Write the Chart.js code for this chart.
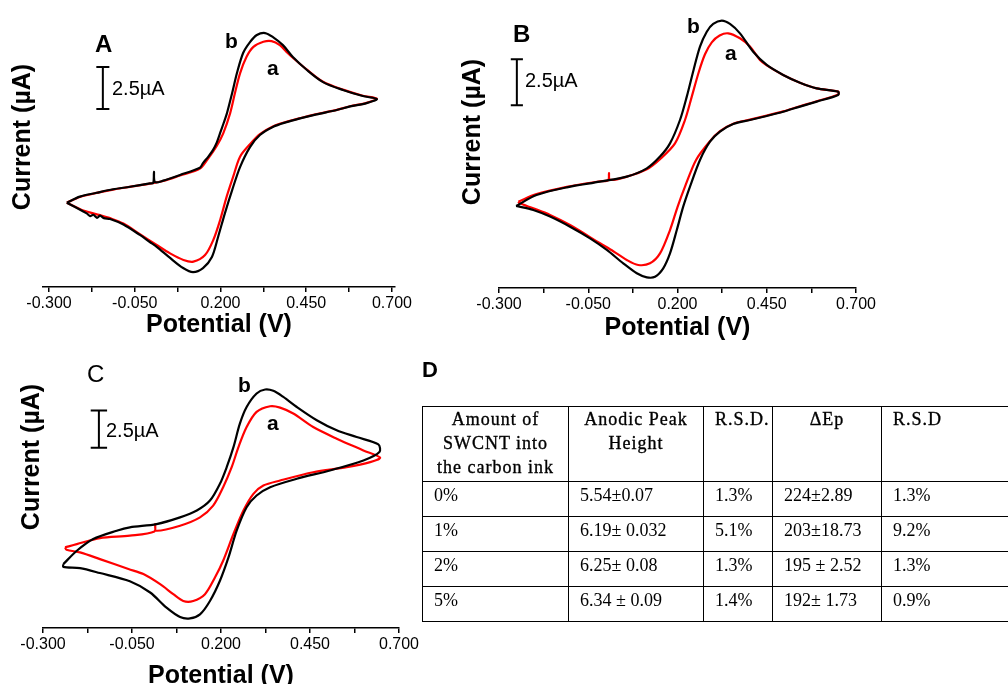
<!DOCTYPE html>
<html>
<head>
<meta charset="utf-8">
<script src="https://cdn.jsdelivr.net/npm/chart.js"></script>
<style>
  body { margin: 0; width: 1008px; height: 684px; overflow: hidden; background: #fff; position: relative; }
  canvas { position: absolute; }
  #lblD { position: absolute; left: 422px; top: 359px; font: bold 22px "Liberation Sans", Arial, sans-serif; line-height: 1; }
  #tbl { position: absolute; left: 422px; top: 406px; width: 659px; border-collapse: collapse; table-layout: fixed;
         font-family: "Liberation Serif", "Times New Roman", serif; font-size: 18px; color: #000; }
  #tbl td { border: 1px solid #000; vertical-align: top; padding: 3px 0 0 11px; line-height: 20px; white-space: nowrap; overflow: hidden; }
  #tbl tr.head td { padding: 0; line-height: 24px; letter-spacing: 1px; text-align: center; -webkit-text-stroke: 0.35px #000; }
  #tbl tr.head td.l { text-align: left; padding-left: 11px; }
</style>
</head>
<body>
<canvas id="cvA" width="425" height="345" style="left:0;top:0"></canvas>
<canvas id="cvB" width="432" height="345" style="left:450px;top:0"></canvas>
<canvas id="cvC" width="425" height="355" style="left:0;top:345px"></canvas>
<div id="lblD">D</div>
<table id="tbl"></table>
<script>
// x ticks (V), labels on every other one
const xTicks = [-0.3, -0.175, -0.05, 0.075, 0.2, 0.325, 0.45, 0.575, 0.7];

// Panel A  (potential V / current uA, loop: forward then reverse)
const potA_b = [-0.248,-0.210,-0.161,-0.113,-0.064,-0.006,0.004,0.006,0.009,0.033,0.082,0.140,0.149,0.164,0.178,0.189,0.199,0.209,0.219,0.234,0.248,0.266,0.286,0.306,0.330,0.353,0.382,0.411,0.452,0.499,0.557,0.615,0.656,
  0.626,0.578,0.539,0.480,0.432,0.390,0.354,0.315,0.286,0.257,0.234,0.213,0.193,0.175,0.149,0.120,0.091,0.053,0.015,-0.006,-0.035,-0.083,-0.122,-0.140,-0.151,-0.160,-0.171,-0.180,-0.190,-0.200,-0.248];
const curA_b = [5.02,5.38,5.61,5.82,5.97,6.17,6.20,6.86,6.25,6.33,6.67,7.10,7.38,7.75,8.15,8.60,9.17,9.75,10.36,11.55,12.74,13.93,14.58,15.00,15.12,14.88,14.40,13.69,12.92,12.20,11.73,11.37,11.19,
  10.95,10.75,10.54,10.28,10.04,9.80,9.54,9.05,8.33,7.14,5.77,4.40,2.98,1.79,1.13,0.89,1.13,1.73,2.38,2.68,3.10,3.72,4.05,4.10,4.25,4.12,4.30,4.22,4.38,4.50,5.02];
const potA_a = [-0.248,-0.210,-0.161,-0.113,-0.064,-0.006,0.033,0.082,0.140,0.164,0.189,0.208,0.228,0.242,0.257,0.276,0.296,0.325,0.349,0.373,0.395,0.411,0.452,0.499,0.557,0.615,0.656,
  0.626,0.578,0.539,0.480,0.432,0.390,0.354,0.315,0.286,0.257,0.237,0.218,0.199,0.179,0.155,0.121,0.092,0.053,0.014,-0.035,-0.083,-0.122,-0.151,-0.200,-0.248];
const curA_a = [5.02,5.36,5.60,5.80,5.96,6.15,6.31,6.64,7.05,7.65,8.40,9.15,10.34,11.53,12.72,13.71,14.30,14.60,14.64,14.40,13.95,13.65,12.94,12.22,11.75,11.39,11.21,
  10.96,10.76,10.55,10.29,10.05,9.82,9.57,9.10,8.50,7.76,6.57,5.38,3.99,2.80,1.90,1.51,1.61,2.00,2.50,3.15,3.78,4.10,4.28,4.55,5.02];

// Panel B
const potB_b = [-0.252,-0.195,-0.110,-0.017,0.058,0.114,0.151,0.179,0.207,0.226,0.245,0.263,0.282,0.300,0.324,0.347,0.375,0.412,0.450,0.496,0.543,0.590,0.650,
  0.650,0.590,0.543,0.496,0.450,0.403,0.356,0.319,0.291,0.263,0.235,0.216,0.198,0.179,0.160,0.137,0.114,0.086,0.048,0.002,-0.045,-0.101,-0.157,-0.204,-0.252];
const curB_b = [4.46,5.05,5.47,5.78,6.05,6.50,7.14,7.86,9.13,10.40,11.85,13.12,13.93,14.35,14.53,14.35,13.84,12.84,12.12,11.58,11.16,10.85,10.67,
  10.49,10.13,9.86,9.58,9.35,9.13,8.91,8.50,7.95,6.96,5.51,4.42,3.15,1.88,1.07,0.61,0.58,0.80,1.34,2.07,2.70,3.33,3.88,4.24,4.46];
const potB_a = [-0.246,-0.195,-0.110,-0.017,0.006,0.008,0.011,0.058,0.114,0.151,0.193,0.221,0.240,0.259,0.277,0.296,0.318,0.342,0.375,0.403,0.431,0.450,0.496,0.543,0.590,0.650,
  0.650,0.590,0.543,0.496,0.450,0.403,0.356,0.319,0.291,0.252,0.221,0.200,0.179,0.151,0.123,0.090,0.058,0.020,-0.017,-0.101,-0.157,-0.204,-0.242,-0.246];
const curB_a = [4.69,5.10,5.50,5.80,5.86,6.25,5.88,6.05,6.45,7.00,7.86,9.13,10.40,11.70,12.70,13.35,13.72,13.84,13.57,13.12,12.39,12.10,11.58,11.16,10.85,10.67,
  10.52,10.15,9.88,9.60,9.37,9.15,8.93,8.52,7.98,6.96,5.51,4.40,3.15,1.88,1.34,1.25,1.52,2.00,2.43,3.42,3.97,4.33,4.60,4.69];

// Panel C
const potC_b = [-0.243,-0.205,-0.159,-0.093,-0.056,0.019,0.085,0.132,0.169,0.197,0.216,0.235,0.253,0.272,0.300,0.324,0.347,0.375,0.413,0.469,0.525,0.581,0.642,0.645,
  0.600,0.506,0.413,0.338,0.300,0.272,0.244,0.221,0.197,0.169,0.141,0.113,0.085,0.047,0.001,-0.056,-0.140,-0.196,-0.243,-0.243];
const curC_b = [4.30,5.20,5.99,6.55,6.78,7.00,7.45,7.91,8.58,9.71,10.83,12.18,13.76,14.88,15.79,16.06,15.97,15.56,14.88,13.99,13.31,12.86,12.36,11.85,
  11.28,10.61,10.05,9.48,8.92,8.13,6.55,4.75,3.18,1.82,0.92,0.65,0.74,1.37,2.39,3.15,3.70,4.03,4.12,4.30];
const potC_a = [-0.238,-0.205,-0.140,-0.056,0.013,0.015,0.018,0.085,0.141,0.178,0.206,0.230,0.249,0.272,0.300,0.338,0.366,0.403,0.459,0.525,0.600,0.647,
  0.619,0.553,0.459,0.366,0.319,0.291,0.263,0.235,0.206,0.183,0.155,0.122,0.094,0.066,0.029,-0.018,-0.060,-0.140,-0.196,-0.234,-0.238];
const curC_a = [5.43,5.65,6.05,6.22,6.50,7.00,6.55,6.89,7.45,8.24,9.48,10.83,12.18,13.53,14.55,14.93,14.84,14.44,13.53,12.75,11.96,11.47,
  11.17,10.83,10.49,9.93,9.59,9.03,7.91,6.33,4.53,3.40,2.28,1.82,1.82,2.28,2.95,3.63,3.97,4.64,5.09,5.27,5.43];

// scale bar length (uA)
const barLen = 2.5;

// Table D
const tblHead = [["Amount of", "SWCNT into", "the carbon ink"], ["Anodic Peak", "Height"], ["R.S.D."], ["\u0394Ep"], ["R.S.D"]];
const tblAmount = ["0%", "1%", "2%", "5%"];
const tblPeak = ["5.54\u00b10.07", "6.19\u00b1 0.032", "6.25\u00b1 0.08", "6.34 \u00b1 0.09"];
const tblRsd1 = ["1.3%", "5.1%", "1.3%", "1.4%"];
const tblDEp = ["224\u00b12.89", "203\u00b118.73", "195 \u00b1 2.52", "192\u00b1 1.73"];
const tblRsd2 = ["1.3%", "9.2%", "1.3%", "0.9%"];

function pts(xs, ys) {
  return xs.map((x, i) => ({ x: x, y: ys[i] }));
}

// I-shaped scale bar, drawn in data units
function scaleBar(x, y0, cap) {
  const y1 = y0 + barLen;
  return [{x: x - cap, y: y1}, {x: x + cap, y: y1}, {x: x, y: y1}, {x: x, y: y0},
          {x: x - cap, y: y0}, {x: x + cap, y: y0}];
}

const notesPlugin = {
  id: 'notes',
  afterDraw(chart, args, opts) {
    const ctx = chart.ctx;
    (opts.items || []).forEach(t => {
      ctx.save();
      ctx.fillStyle = '#000';
      ctx.font = t.font + ' "Liberation Sans", Arial, sans-serif';
      if (t.rot) {
        ctx.translate(t.x, t.y);
        ctx.rotate(-Math.PI / 2);
        ctx.textAlign = 'center';
        ctx.textBaseline = 'middle';
        ctx.fillText(t.text, 0, 0);
      } else {
        ctx.textAlign = 'left';
        ctx.textBaseline = 'alphabetic';
        ctx.fillText(t.text, t.x, t.y);
      }
      ctx.restore();
    });
  }
};

function makeCV(id, c) {
  new Chart(document.getElementById(id), {
    type: 'line',
    data: {
      datasets: [
        { data: pts(c.bx, c.by), borderColor: '#000', borderWidth: 2.2, pointRadius: 0, tension: 0.3, fill: false },
        { data: pts(c.ax, c.ay), borderColor: '#ff0000', borderWidth: 2.2, pointRadius: 0, tension: 0.3, fill: false },
        { data: scaleBar(c.barX, c.barY, c.barCap), borderColor: '#000', borderWidth: 2, pointRadius: 0, tension: 0, fill: false }
      ]
    },
    options: {
      responsive: false,
      animation: false,
      events: [],
      layout: { padding: { left: c.padL, right: c.padR, top: 5, bottom: 0 } },
      plugins: {
        legend: { display: false },
        tooltip: { enabled: false },
        notes: { items: c.notes }
      },
      scales: {
        x: {
          type: 'linear',
          min: c.xMin,
          max: c.xMax,
          afterBuildTicks: s => { s.ticks = xTicks.map(v => ({ value: v })); },
          afterFit: s => { s.height = c.axisH; },
          ticks: {
            autoSkip: false, maxRotation: 0, minRotation: 0, padding: 2, color: '#000',
            font: { family: '"Liberation Sans", Arial, sans-serif', size: 16 },
            callback: (v, i) => (i % 2 === 0 ? Number(v).toFixed(3) : '')
          },
          grid: { drawOnChartArea: false, drawTicks: true, tickLength: 5, color: '#000', tickColor: '#000', lineWidth: 1.5 },
          border: { display: true, color: '#000', width: 1.5 },
          title: {
            display: true, text: 'Potential (V)', color: '#000',
            font: { family: '"Liberation Sans", Arial, sans-serif', size: 25, weight: 'bold' },
            padding: { top: 0, bottom: c.titlePad }
          }
        },
        y: { type: 'linear', display: false, min: 0, max: c.yMax }
      }
    },
    plugins: [notesPlugin]
  });
}

makeCV('cvA', {
  bx: potA_b, by: curA_b, ax: potA_a, ay: curA_a,
  xMin: -0.3175, xMax: 0.7088, yMax: 16.79, padL: 43, padR: 30, axisH: 58, titlePad: 5,
  barX: -0.143, barY: 10.60, barCap: 0.019,
  notes: [
    { text: 'A', x: 95, y: 52, font: 'bold 24px' },
    { text: 'b', x: 225, y: 48, font: 'bold 21px' },
    { text: 'a', x: 267, y: 75, font: 'bold 21px' },
    { text: '2.5\u00b5A', x: 112, y: 95, font: '20px' },
    { text: 'Current (\u00b5A)', x: 23, y: 137, font: 'bold 25px', rot: true }
  ]
});

makeCV('cvB', {
  bx: potB_b, by: curB_b, ax: potB_a, ay: curB_a,
  xMin: -0.3, xMax: 0.7, yMax: 15.38, padL: 49, padR: 26, axisH: 57, titlePad: 2,
  barX: -0.250, barY: 9.93, barCap: 0.017,
  notes: [
    { text: 'B', x: 63, y: 42, font: 'bold 24px' },
    { text: 'b', x: 237, y: 33, font: 'bold 21px' },
    { text: 'a', x: 275, y: 60, font: 'bold 21px' },
    { text: '2.5\u00b5A', x: 75, y: 87, font: '20px' },
    { text: 'Current (\u00b5A)', x: 23, y: 132, font: 'bold 25px', rot: true }
  ]
});

makeCV('cvC', {
  bx: potC_b, by: curC_b, ax: potC_a, ay: curC_a,
  xMin: -0.3, xMax: 0.7, yMax: 18.72, padL: 43, padR: 26, axisH: 72, titlePad: 9,
  barX: -0.143, barY: 12.14, barCap: 0.023,
  notes: [
    { text: 'C', x: 87, y: 37, font: '24px' },
    { text: 'b', x: 238, y: 47, font: 'bold 21px' },
    { text: 'a', x: 267, y: 85, font: 'bold 21px' },
    { text: '2.5\u00b5A', x: 106, y: 92, font: '20px' },
    { text: 'Current (\u00b5A)', x: 32, y: 112, font: 'bold 25px', rot: true }
  ]
});

// table D
const colW = [146, 135, 69, 109, 200];
const tbl = document.getElementById('tbl');
let html = '<colgroup>' + colW.map(w => '<col style="width:' + w + 'px">').join('') + '</colgroup>';
html += '<tr class="head" style="height:75px">' + tblHead.map((h, i) =>
  '<td' + (i === 2 || i === 4 ? ' class="l"' : '') + '>' + h.join('<br>') + '</td>').join('') + '</tr>';
tblAmount.forEach((a, i) => {
  html += '<tr style="height:35px"><td>' + a + '</td><td>' + tblPeak[i] + '</td><td>' + tblRsd1[i] +
          '</td><td>' + tblDEp[i] + '</td><td>' + tblRsd2[i] + '</td></tr>';
});
tbl.innerHTML = html;
</script>
</body>
</html>
